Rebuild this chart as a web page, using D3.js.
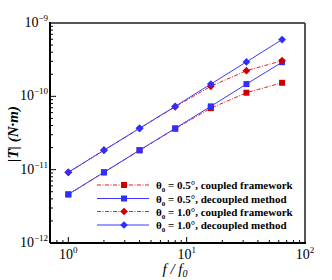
<!DOCTYPE html>
<html><head><meta charset="utf-8">
<script src="https://cdn.jsdelivr.net/npm/d3@7"></script>
<style>body{margin:0;background:#fff}svg{display:block}</style>
</head><body>
<svg id="c" width="332" height="280"></svg>
<script>
const freq = [1, 2, 4, 8, 16, 32, 64];
const coupled05 = [4.6e-12, 9.2e-12, 1.84e-11, 3.62e-11, 6.9e-11, 1.12e-10, 1.53e-10];
const decoupled05 = [4.6e-12, 9.2e-12, 1.84e-11, 3.66e-11, 7.3e-11, 1.47e-10, 2.92e-10];
const coupled10 = [9.2e-12, 1.84e-11, 3.66e-11, 7.2e-11, 1.37e-10, 2.24e-10, 3.06e-10];
const decoupled10 = [9.2e-12, 1.84e-11, 3.66e-11, 7.3e-11, 1.47e-10, 2.95e-10, 5.95e-10];
const legendLabels = ["0.5°, coupled framework", "0.5°, decoupled method", "1.0°, coupled framework", "1.0°, decoupled method"];
const xMajor = [1, 10, 100];
const xMinor = [0.8, 0.9, 2, 3, 4, 5, 6, 7, 8, 9, 20, 30, 40, 50, 60, 70, 80, 90];
const yMajorExp = [-12, -11, -10, -9];

const svg = d3.select("#c");
const L = 50, R = 305, T = 23, B = 243;
const x = d3.scaleLog().domain([0.7, 100]).range([L, R]);
const y = d3.scaleLog().domain([1e-12, 1e-9]).range([B, T]);
const serif = "'Liberation Serif','Times New Roman',serif";

const series = [
  {v: coupled05, color: "#cc0000", line: "#dd2222", dash: "4,1.5,1,1.5", sym: d3.symbolSquare, size: 36, rot: 0},
  {v: decoupled05, color: "#2f2fff", line: "#3a3aff", dash: null, sym: d3.symbolSquare, size: 36, rot: 0},
  {v: coupled10, color: "#cc0000", line: "#dd2222", dash: "4,1.5,1,1.5", sym: d3.symbolSquare, size: 30, rot: 45},
  {v: decoupled10, color: "#2f2fff", line: "#3a3aff", dash: null, sym: d3.symbolSquare, size: 30, rot: 45}
];

// ticks x (inward)
const gx = svg.append("g");
xMinor.forEach(d => gx.append("line").attr("x1", x(d)).attr("x2", x(d)).attr("y1", B).attr("y2", B - 3).attr("stroke", "#000"));
xMajor.forEach(d => gx.append("line").attr("x1", x(d)).attr("x2", x(d)).attr("y1", B).attr("y2", B - 6).attr("stroke", "#000"));
// ticks y
const gy = svg.append("g");
yMajorExp.forEach(e => {
  const v = Math.pow(10, e);
  gy.append("line").attr("x1", L).attr("x2", L + 6).attr("y1", y(v)).attr("y2", y(v)).attr("stroke", "#000");
  if (e < -9) for (let k = 2; k <= 9; k++) {
    const m = k * v;
    gy.append("line").attr("x1", L).attr("x2", L + 3).attr("y1", y(m)).attr("y2", y(m)).attr("stroke", "#000");
  }
});

// frame
svg.append("line").attr("x1", L).attr("x2", R).attr("y1", T).attr("y2", T).attr("stroke", "#555").attr("stroke-width", 2);
svg.append("line").attr("x1", R).attr("x2", R).attr("y1", T).attr("y2", B).attr("stroke", "#555").attr("stroke-width", 2);
svg.append("line").attr("x1", L).attr("x2", R + 1).attr("y1", B).attr("y2", B).attr("stroke", "#000").attr("stroke-width", 2);
svg.append("line").attr("x1", L).attr("x2", L).attr("y1", T - 1).attr("y2", B).attr("stroke", "#000").attr("stroke-width", 2);

// tick labels
xMajor.forEach(d => {
  const t = svg.append("text").attr("x", x(d)).attr("y", 259).attr("text-anchor", "middle")
    .attr("font-family", serif).attr("font-size", 14);
  t.append("tspan").text("10");
  t.append("tspan").attr("dy", -6).attr("font-size", 9).text(Math.round(Math.log10(d)));
});
yMajorExp.forEach(e => {
  const t = svg.append("text").attr("x", 48).attr("y", y(Math.pow(10, e)) + 4).attr("text-anchor", "end")
    .attr("font-family", serif).attr("font-size", 14);
  t.append("tspan").text("10");
  t.append("tspan").attr("dy", -6).attr("font-size", 9).text("\u2212" + Math.abs(e));
});

// axis titles
const xt = svg.append("text").attr("x", 175).attr("y", 274).attr("text-anchor", "middle")
  .attr("font-family", serif).attr("font-size", 15).attr("font-style", "italic");
xt.append("tspan").text("f / f");
xt.append("tspan").attr("dy", 3).attr("font-size", 10).text("0");
const yt = svg.append("text").attr("transform", "translate(18,134) rotate(-90)").attr("text-anchor", "middle")
  .attr("font-family", serif).attr("font-size", 15).attr("font-style", "italic").attr("font-weight", "bold");
yt.append("tspan").text("|T| (N·m)");

// data
const line = d3.line().x((d, i) => x(freq[i])).y(d => y(d));
series.forEach(s => {
  svg.append("path").attr("d", line(s.v)).attr("fill", "none").attr("stroke", s.line).attr("stroke-width", 1)
    .attr("stroke-dasharray", s.dash);
  svg.selectAll(null).data(s.v).enter().append("path")
    .attr("transform", (d, i) => `translate(${x(freq[i])},${y(d)}) rotate(${s.rot})`)
    .attr("d", d3.symbol().type(s.sym).size(s.size)).attr("fill", s.color);
});

// legend
const ly = [185, 198.5, 211.5, 225];
series.forEach((s, i) => {
  svg.append("line").attr("x1", 97).attr("x2", 149).attr("y1", ly[i]).attr("y2", ly[i])
    .attr("stroke", s.line).attr("stroke-width", 1).attr("stroke-dasharray", s.dash);
  svg.append("path").attr("transform", `translate(124,${ly[i]}) rotate(${s.rot})`).attr("d", d3.symbol().type(s.sym).size(s.size)).attr("fill", s.color);
  const t = svg.append("text").attr("x", 156).attr("y", ly[i] + 4).attr("font-family", serif)
    .attr("font-size", 11).attr("font-weight", "bold");
  t.append("tspan").text("θ");
  t.append("tspan").attr("dy", 3).attr("font-size", 7).text("0");
  t.append("tspan").attr("dy", -3).text(" = " + legendLabels[i]);
});
</script>
</body></html>
